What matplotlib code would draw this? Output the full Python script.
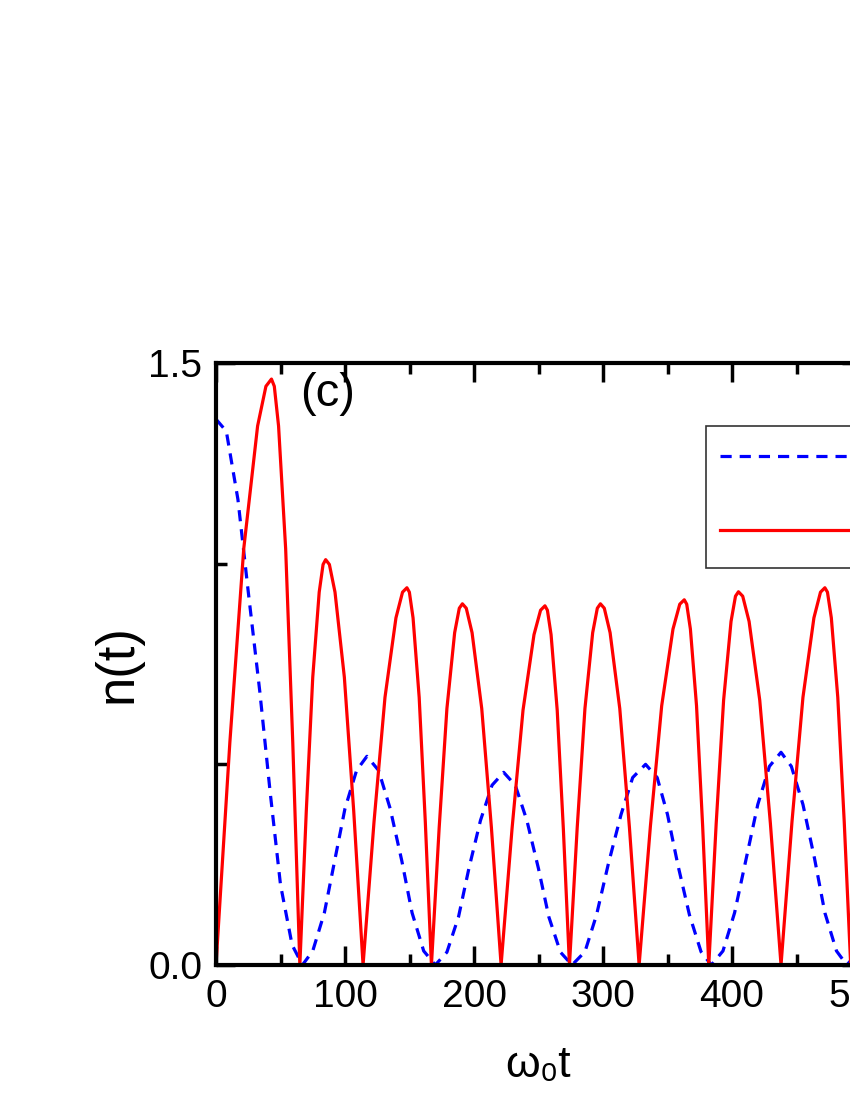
import matplotlib
matplotlib.use("Agg")
import matplotlib.pyplot as plt
from matplotlib.ticker import MultipleLocator, FixedLocator, FormatStrFormatter

plt.rcParams['font.family'] = 'Liberation Sans'

# blue dashed curve
blue_t = [0, 8, 17, 25, 34, 42, 50, 59, 67,
          75, 84, 92, 100, 109, 117, 126, 135, 144, 152, 161, 170,
          179, 188, 196, 205, 214, 223, 232, 241, 250, 258, 267, 276,
          286, 295, 304, 314, 323, 333, 342, 350, 358, 367, 376, 384,
          393, 402, 411, 420, 429, 438, 446, 455, 464, 472, 481, 489, 500]
blue_n = [1.36, 1.33, 1.16, 0.93, 0.68, 0.43, 0.20, 0.05, 0.0,
          0.035, 0.13, 0.26, 0.39, 0.485, 0.52, 0.485, 0.39, 0.26, 0.13, 0.035, 0.0,
          0.032, 0.12, 0.24, 0.36, 0.448, 0.48, 0.448, 0.36, 0.24, 0.12, 0.032, 0.0,
          0.033, 0.125, 0.25, 0.375, 0.467, 0.50, 0.467, 0.375, 0.25, 0.125, 0.033, 0.0,
          0.035, 0.13, 0.265, 0.40, 0.495, 0.53, 0.495, 0.40, 0.265, 0.13, 0.035, 0.0, 0.04]

# red solid curve
red_t = [0, 10.75, 21.5, 32.25, 38.7, 43, 45.2, 48.5, 54, 59.5,
         65, 70, 75, 80, 83, 85, 87.9, 92.25, 99.5, 106.75,
         114, 122.5, 131, 139.5, 144.6, 148, 149.9, 152.75, 157.5, 162.25,
         167, 173, 179, 185, 188.6, 191, 194, 198.5, 206, 213.5,
         221, 229.5, 238, 246.5, 251.6, 255, 256.9, 259.75, 264.5, 269.25,
         274, 280, 286, 292, 295.6, 298, 301, 305.5, 313, 320.5,
         328, 336.75, 345.5, 354.25, 359.5, 363, 364.9, 367.75, 372.5, 377.25,
         382, 387.75, 393.5, 399.25, 402.7, 405, 408.3, 413.25, 421.5, 429.75,
         438, 446.5, 455, 463.5, 468.6, 472, 474, 477, 482, 487, 492, 500]
red_n = [0, 0.555, 1.037, 1.343, 1.442, 1.46, 1.442, 1.343, 1.037, 0.555,
         0, 0.384, 0.717, 0.929, 0.998, 1.01, 0.998, 0.929, 0.717, 0.384,
         0, 0.357, 0.667, 0.865, 0.929, 0.94, 0.929, 0.865, 0.667, 0.357,
         0, 0.342, 0.639, 0.828, 0.889, 0.90, 0.889, 0.828, 0.639, 0.342,
         0, 0.34, 0.635, 0.823, 0.884, 0.895, 0.884, 0.823, 0.635, 0.34,
         0, 0.342, 0.639, 0.828, 0.889, 0.90, 0.889, 0.828, 0.639, 0.342,
         0, 0.346, 0.646, 0.837, 0.899, 0.91, 0.899, 0.837, 0.646, 0.346,
         0, 0.353, 0.66, 0.856, 0.919, 0.93, 0.919, 0.856, 0.66, 0.353,
         0, 0.357, 0.667, 0.865, 0.929, 0.94, 0.929, 0.865, 0.667, 0.357, 0, 0.35]

fig = plt.figure(figsize=(8.5, 11), dpi=100)
ax = fig.add_axes([216/850, (1100-965)/1100, 645/850, 602/1100])

ax.plot(blue_t, blue_n, color='blue', ls='--', lw=2.3, dashes=(3.5, 2.5), label=' ')
ax.plot(red_t, red_n, color='red', lw=2.3, label=' ')

ax.set_xlim(0, 500)
ax.set_ylim(0, 1.5)
ax.xaxis.set_major_locator(MultipleLocator(100))
ax.xaxis.set_minor_locator(MultipleLocator(50))
ax.yaxis.set_major_locator(FixedLocator([0, 1.5]))
ax.yaxis.set_minor_locator(FixedLocator([0.5, 1.0]))
ax.yaxis.set_major_formatter(FormatStrFormatter('%.1f'))
ax.tick_params(which='both', direction='in', top=True, right=True, width=2.5, labelsize=28, pad=10)
ax.tick_params(which='major', length=14)
ax.tick_params(which='minor', length=8)
for s in ax.spines.values():
    s.set_linewidth(3)

ax.set_ylabel('n(t)', fontsize=38, labelpad=4)
ax.set_xlabel('ω₀t', fontsize=32, labelpad=22)
ax.text(0.13, 0.985, '(c)', transform=ax.transAxes, fontsize=34, va='top')

leg = ax.legend(loc='upper left', bbox_to_anchor=(684/850, (1100-404)/1100),
                bbox_transform=fig.transFigure, handlelength=3.6, fontsize=32,
                frameon=True, fancybox=False, edgecolor='black', borderpad=0.3,
                labelspacing=0.75, handletextpad=0.5)
leg.get_frame().set_linewidth(1.2)
for t in leg.get_texts():
    t.set_text('      ')

fig.savefig('out.png', dpi=100)
